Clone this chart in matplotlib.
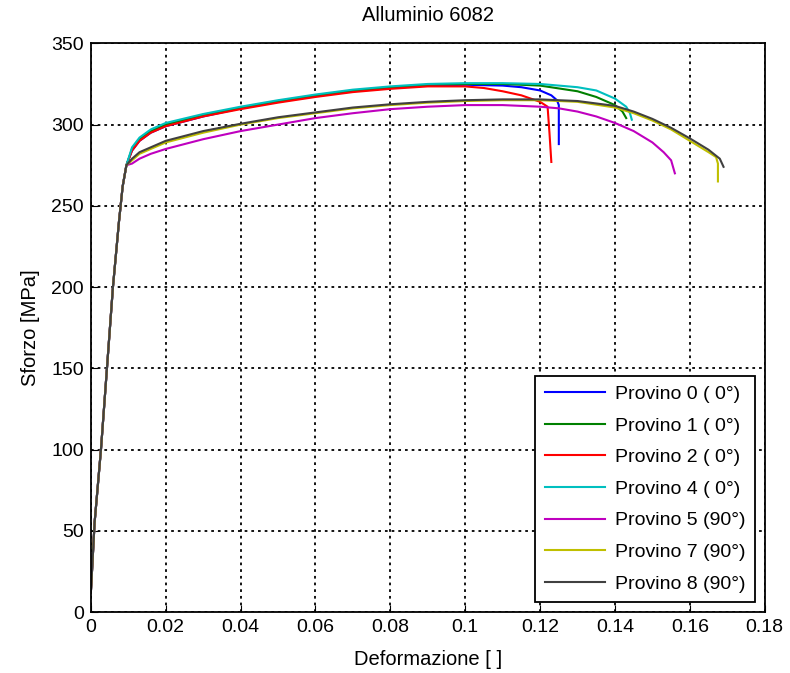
import numpy as np
import matplotlib.pyplot as plt

plt.rcParams['font.family'] = ['Liberation Sans', 'DejaVu Sans']

# tratto elastico comune
eps_el = [0.0, 0.001, 0.0027, 0.0043, 0.0059, 0.0075, 0.0085, 0.0095]
sig_el = [12, 55, 100, 150, 200, 240, 262, 275]

# provini a 0 gradi
eps_p0 = [0.011, 0.013, 0.016, 0.02, 0.03, 0.04, 0.05, 0.06, 0.07, 0.08, 0.09, 0.10, 0.11, 0.115, 0.12, 0.123, 0.1245, 0.125, 0.125]
sig_p0 = [284, 290, 295, 299, 305, 310, 314, 317.5, 320.5, 322.5, 324, 324.5, 324, 323, 321, 318, 315, 312, 288]

eps_p1 = [0.011, 0.013, 0.016, 0.02, 0.03, 0.04, 0.05, 0.06, 0.07, 0.08, 0.09, 0.10, 0.11, 0.12, 0.13, 0.135, 0.14, 0.142, 0.143]
sig_p1 = [285, 291, 296, 300, 306, 310.5, 314.5, 318, 321, 323, 324.5, 325, 325, 324, 320.5, 317, 312, 308, 304]

eps_p2 = [0.011, 0.013, 0.016, 0.02, 0.03, 0.04, 0.05, 0.06, 0.07, 0.08, 0.09, 0.10, 0.105, 0.11, 0.115, 0.12, 0.122, 0.1225, 0.123]
sig_p2 = [284, 290, 295, 299, 305, 309.5, 313.5, 317, 320, 322, 323.5, 323.5, 322.5, 320.5, 318, 314, 311, 295, 277]

eps_p4 = [0.011, 0.013, 0.016, 0.02, 0.03, 0.04, 0.05, 0.06, 0.07, 0.08, 0.09, 0.10, 0.11, 0.12, 0.13, 0.135, 0.14, 0.143, 0.144, 0.1445]
sig_p4 = [286, 292, 297, 301, 306.5, 311, 315, 318.5, 321.5, 323.5, 325, 325.5, 325.5, 325, 323, 321, 316, 311, 307, 303]

# provini a 90 gradi
eps_p5 = [0.011, 0.013, 0.016, 0.02, 0.03, 0.04, 0.05, 0.06, 0.07, 0.08, 0.09, 0.10, 0.11, 0.12, 0.125, 0.13, 0.135, 0.14, 0.145, 0.15, 0.153, 0.155, 0.156]
sig_p5 = [276, 279, 282, 285, 291, 296, 300, 304, 307, 309.5, 311, 312, 312, 311, 310, 308, 305, 301, 296, 289, 283, 278, 270]

eps_p7 = [0.011, 0.013, 0.016, 0.02, 0.03, 0.04, 0.05, 0.06, 0.07, 0.08, 0.09, 0.10, 0.11, 0.12, 0.13, 0.14, 0.145, 0.15, 0.155, 0.16, 0.165, 0.167, 0.1675, 0.1675]
sig_p7 = [278, 282, 285, 289, 295, 300, 304, 307, 310, 312, 313.5, 314.5, 315, 315, 314, 310.5, 307, 302.5, 297, 290, 283, 280, 276, 265]

eps_p8 = [0.011, 0.013, 0.016, 0.02, 0.03, 0.04, 0.05, 0.06, 0.07, 0.08, 0.09, 0.10, 0.11, 0.12, 0.13, 0.14, 0.145, 0.15, 0.155, 0.16, 0.165, 0.168, 0.169]
sig_p8 = [279, 283, 286, 290, 296, 300.5, 304.5, 307.5, 310.5, 312.5, 314, 315, 315.5, 315.5, 314.5, 311.5, 308, 303.5, 298, 291.5, 284.5, 279, 274]

etichette = ['Provino 0 ( 0°)', 'Provino 1 ( 0°)', 'Provino 2 ( 0°)', 'Provino 4 ( 0°)',
             'Provino 5 (90°)', 'Provino 7 (90°)', 'Provino 8 (90°)']
colori = ['#0000ff', '#008000', '#ff0000', '#00bfbf', '#bf00bf', '#bfbf00', '#404040']

serie = [(eps_p0, sig_p0), (eps_p1, sig_p1), (eps_p2, sig_p2), (eps_p4, sig_p4),
         (eps_p5, sig_p5), (eps_p7, sig_p7), (eps_p8, sig_p8)]

fig = plt.figure(figsize=(7.9, 6.73), dpi=100)
ax = fig.add_axes([0.115, 0.0906, 0.853, 0.845])

for (e, s), lab, c in zip(serie, etichette, colori):
    ax.plot(eps_el + e, sig_el + s, color=c, lw=1.5, label=lab)

ax.set_xlim(0, 0.18)
ax.set_ylim(0, 350)
ax.set_xticks(np.arange(0, 0.181, 0.02))
ax.set_xticklabels(['0', '0.02', '0.04', '0.06', '0.08', '0.1', '0.12', '0.14', '0.16', '0.18'])
ax.set_yticks(np.arange(0, 351, 50))
ax.grid(True, color='black', linestyle=(0, (1.5, 2.2)), linewidth=1.3)
ax.tick_params(direction='in', labelsize=14, length=5, pad=5)
for sp in ax.spines.values():
    sp.set_linewidth(1.3)
ax.set_xlabel('Deformazione [ ]', fontsize=14.5, labelpad=10)
ax.set_ylabel('Sforzo [MPa]', fontsize=14.5, labelpad=8)
ax.set_title('Alluminio 6082', fontsize=14.5, pad=16)

leg = ax.legend(loc='lower right', fontsize=14, fancybox=False, framealpha=1,
                edgecolor='black', handlelength=3.1, handletextpad=0.5,
                borderaxespad=0.5, borderpad=0.5, labelspacing=0.72)
leg.get_frame().set_linewidth(1.3)

fig.savefig('out.png', dpi=100)
